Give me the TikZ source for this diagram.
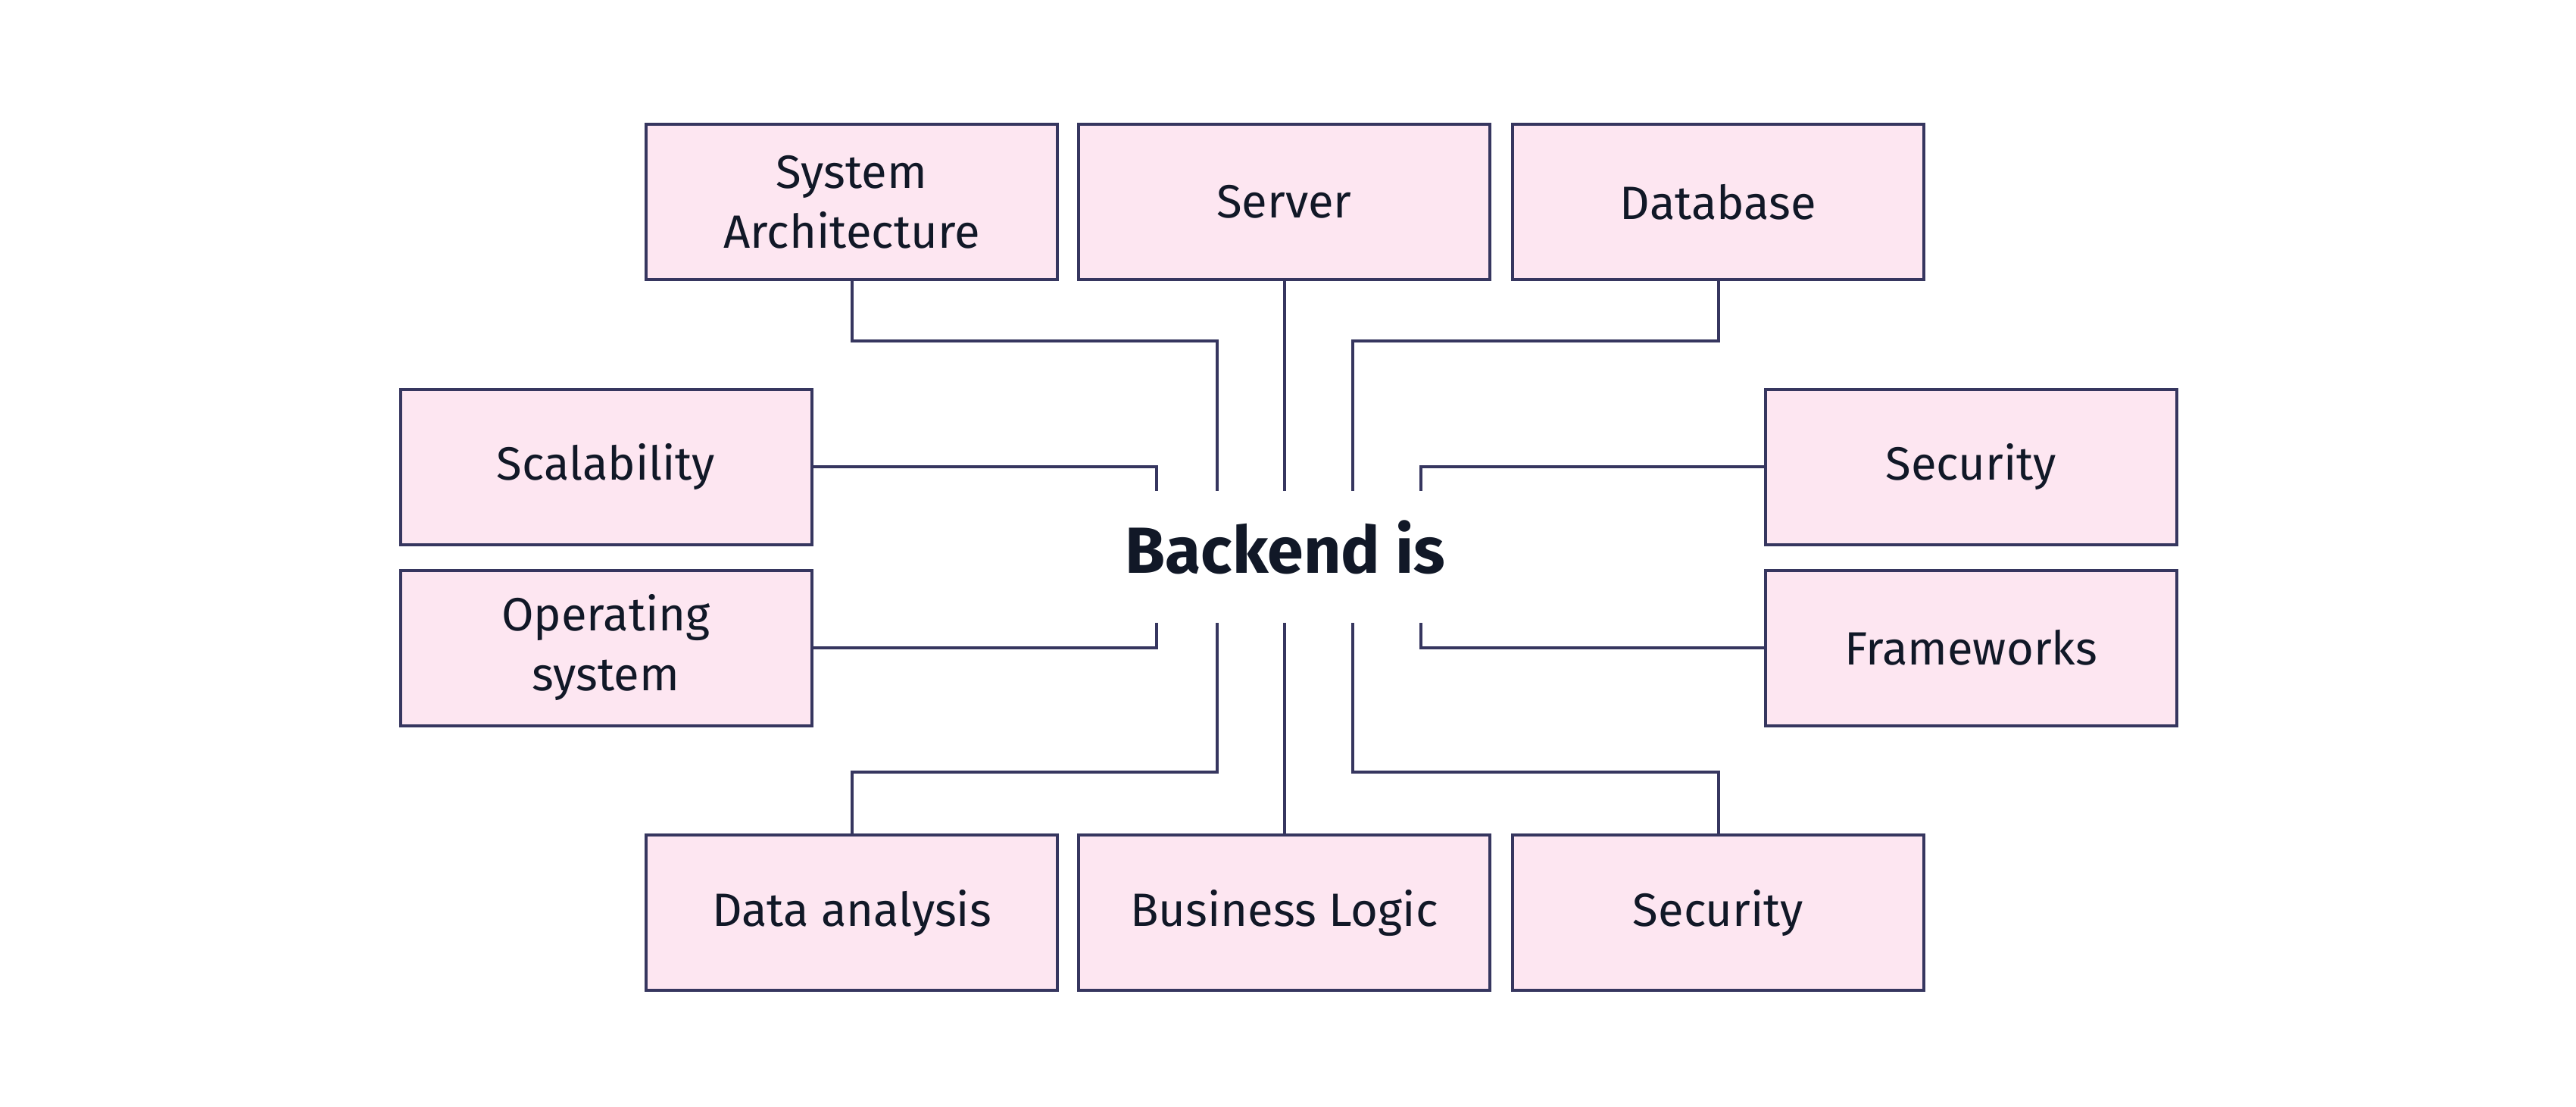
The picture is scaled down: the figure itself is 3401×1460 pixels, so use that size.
\documentclass[tikz,border=0pt]{standalone}
\usepackage{fontspec}
\setmainfont{Fira Sans}
\definecolor{boxfill}{HTML}{FDE6F1}
\definecolor{boxline}{HTML}{36365F}
\definecolor{txt}{HTML}{111827}
\begin{document}
\begin{tikzpicture}[x=0.25pt,y=-0.25pt,
  topic/.style={draw=boxline,fill=boxfill,line width=1pt,minimum width=135.75pt,minimum height=51.25pt,
    inner sep=0pt,align=center,text=txt,font=\fontsize{15.4}{19.75}\selectfont},
  link/.style={draw=boxline,line width=1pt}]
\useasboundingbox (0,0) rectangle (3401,1460);
\fill[white] (0,0) rectangle (3401,1460);
% boxes
\node[topic] (sa) at (1124.5,266.5) {System\\Architecture};
\node[topic] (sv) at (1695.5,266.5) {Server};
\node[topic] (db) at (2268.5,266.5) {Database};
\node[topic] (sc) at (800,616) {Scalability};
\node[topic] (os) at (800,855) {Operating\\system};
\node[topic] (se) at (2602,616) {Security};
\node[topic] (fw) at (2602,855) {Frameworks};
\node[topic] (da) at (1124.5,1204.5) {Data analysis};
\node[topic] (bl) at (1695.5,1204.5) {Business Logic};
\node[topic] (s2) at (2268.5,1204.5) {Security};
% centre
\node[text=txt,font=\fontsize{21.5}{26}\selectfont\bfseries] (ctr) at (1697,722) {Backend is};
% connector end points
\coordinate (tSC) at (1527,648);
\coordinate (tSA) at (1607,648);
\coordinate (tSV) at (1695.5,648);
\coordinate (tDB) at (1786,648);
\coordinate (tSE) at (1876,648);
\coordinate (bOS) at (1527,822);
\coordinate (bDA) at (1607,822);
\coordinate (bBL) at (1695.5,822);
\coordinate (bS2) at (1786,822);
\coordinate (bFW) at (1876,822);
\coordinate (hSA) at (1607,450);
\coordinate (hDB) at (1786,450);
\coordinate (hDA) at (1607,1019);
\coordinate (hS2) at (1786,1019);
% connectors
\draw[link] (sa.south) |- (hSA) -- (tSA);
\draw[link] (sv.south) -- (tSV);
\draw[link] (db.south) |- (hDB) -- (tDB);
\draw[link] (sc.east) -| (tSC);
\draw[link] (se.west) -| (tSE);
\draw[link] (os.east) -| (bOS);
\draw[link] (fw.west) -| (bFW);
\draw[link] (da.north) |- (hDA) -- (bDA);
\draw[link] (bl.north) -- (bBL);
\draw[link] (s2.north) |- (hS2) -- (bS2);
\end{tikzpicture}
\end{document}
